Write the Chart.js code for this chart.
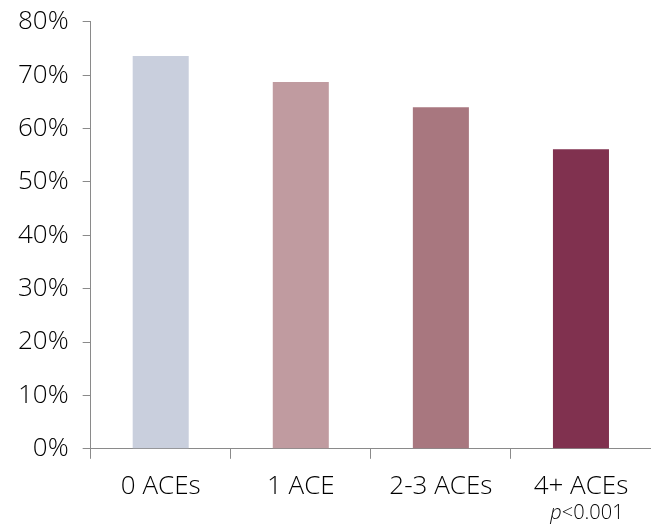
<!DOCTYPE html>
<html lang="en">
<head>
  <meta charset="UTF-8">
  <title>ACEs chart</title>
  <style>
    body { margin: 0; background: #fff; }
    .chart-box { width: 651px; height: 525px; position: relative; }
  </style>
</head>
<body>
  <div class="chart-box">
    <canvas id="aceChart"></canvas>
  </div>

  <script src="https://cdn.jsdelivr.net/npm/chart.js"></script>
  <script>
    // data
    const categories = ['0 ACEs', '1 ACE', '2-3 ACEs', '4+ ACEs'];
    const percentValues = [73.6, 68.7, 64.0, 56.1];
    const barColors = ['#C9CFDD', '#C09BA0', '#A8777F', '#80314F'];
    const pNote = ['p', '<0.001'];

    const fontFamily = '"Open Sans", "DejaVu Sans", sans-serif';
    const axisColor = '#8a8a8a';
    const textColor = '#000000';

    // writes the italic "p" note under the last category label
    const pNotePlugin = {
      id: 'pNote',
      afterDraw(chart) {
        const ctx = chart.ctx;
        const x = chart.scales.x.getPixelForValue(categories.length - 1) + 6;
        ctx.save();
        ctx.fillStyle = textColor;
        ctx.textBaseline = 'middle';
        ctx.font = 'italic 300 20px ' + fontFamily;
        const w1 = ctx.measureText(pNote[0]).width;
        ctx.font = '300 20px ' + fontFamily;
        const w2 = ctx.measureText(pNote[1]).width;
        const start = x - (w1 + w2) / 2;
        const y = 513;
        ctx.font = 'italic 300 20px ' + fontFamily;
        ctx.fillText(pNote[0], start, y);
        ctx.font = '300 20px ' + fontFamily;
        ctx.fillText(pNote[1], start + w1, y);
        ctx.restore();
      }
    };

    const ctx = document.getElementById('aceChart').getContext('2d');
    new Chart(ctx, {
      type: 'bar',
      data: {
        labels: categories,
        datasets: [{
          data: percentValues,
          backgroundColor: barColors,
          barPercentage: 0.4,
          categoryPercentage: 1.0
        }]
      },
      options: {
        responsive: true,
        maintainAspectRatio: false,
        animation: false,
        layout: { padding: { top: 0, right: 0, bottom: 11, left: 4 } },
        plugins: {
          legend: { display: false },
          tooltip: { enabled: false }
        },
        scales: {
          x: {
            offset: true,
            grid: {
              display: true,
              offset: true,
              drawOnChartArea: false,
              drawTicks: true,
              tickLength: 10,
              color: axisColor,
              lineWidth: 1
            },
            border: { display: true, color: axisColor, width: 1 },
            ticks: {
              color: textColor,
              font: { family: fontFamily, size: 26, weight: '300' },
              padding: 12,
              maxRotation: 0
            }
          },
          y: {
            min: 0,
            max: 80,
            grid: {
              display: true,
              drawOnChartArea: false,
              drawTicks: true,
              tickLength: 8,
              color: axisColor,
              lineWidth: 1
            },
            border: { display: true, color: axisColor, width: 1 },
            ticks: {
              stepSize: 10,
              color: textColor,
              font: { family: fontFamily, size: 26, weight: '300', lineHeight: 0.6 },
              padding: 14,
              callback: v => v + '%'
            }
          }
        }
      },
      plugins: [pNotePlugin]
    });
  </script>
</body>
</html>
